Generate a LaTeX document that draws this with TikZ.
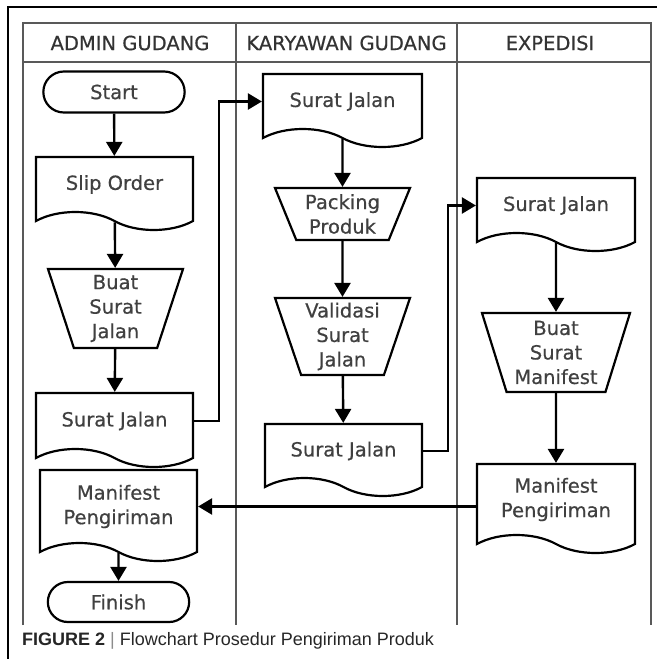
\documentclass[tikz,border=0pt]{standalone}
\usepackage{fontspec}
\setmainfont{DejaVu Sans}
\newfontfamily\flowfam{DejaVu Sans}[FakeBold=0.5]
\newfontfamily\capfont{Liberation Sans}
\usetikzlibrary{positioning,calc,shapes.misc,shapes.geometric,shapes.symbols,arrows.meta}

\newcommand{\flowfont}{\flowfam\fontsize{19.5}{24.5}\selectfont}

\tikzset{
  lane/.style={line width=1.8pt, draw=black!65},
  lanehead/.style={font=\flowfont, text=black!80},
  terminal/.style={rounded rectangle, draw, line width=2.2pt, minimum width=148pt, minimum height=41pt, font=\flowfont, text=black!75},
  doc/.style={tape, tape bend top=none, tape bend bottom=out and in, tape bend height=18pt, draw, line width=2.2pt, minimum width=157pt, minimum height=73pt, align=center, font=\flowfont, text=black!75},
  manual/.style={trapezium, shape border rotate=180, trapezium left angle=70, trapezium right angle=70, trapezium stretches body, draw, line width=2.2pt, minimum width=135pt, inner sep=2pt, align=center, font=\flowfont, text=black!75},
  flow/.style={-{Triangle[length=14pt,width=16pt]}, line width=2.4pt},
}

\begin{document}
\begin{tikzpicture}[x=1pt, y=-1pt]
\useasboundingbox (0,0) rectangle (657,659);
\draw[line width=1.2pt] (8,659) -- (8,7) -- (657,7);

% swimlanes
\draw[lane] (23,625) -- (23,23) -- (651,23) -- (651,625);
\draw[lane] (23,62) -- (651,62);
\draw[lane] (236,23) -- (236,625);
\draw[lane] (457,23) -- (457,625);
\node[lanehead] (hAdmin) at (130,43) {ADMIN GUDANG};
\node[lanehead] (hKaryawan) at (346.5,43) {KARYAWAN GUDANG};
\node[lanehead] (hExpedisi) at (550,43) {EXPEDISI};

% admin gudang
\node[terminal] (Start) at (114,92) {Start};
\node[doc] (SlipOrder) [below of=Start, node distance=92.5pt, xshift=0.5pt] {Slip Order};
\node[manual, minimum height=79pt] (BuatSJ) [below of=SlipOrder, node distance=124pt, xshift=1pt] {Buat\\Surat\\Jalan};
\node[doc, minimum height=74pt] (SJAdmin) [below of=BuatSJ, node distance=112.5pt, xshift=-1pt] {Surat Jalan};
\node[doc, minimum height=91pt] (ManifestAdmin) at (118.5,506.5) {Manifest\\Pengiriman};
\node[terminal, minimum height=40pt] (Finish) [below of=ManifestAdmin, node distance=95.5pt] {Finish};

% karyawan gudang
\node[doc, minimum width=159pt] (SJKaryawan) at (342.5,101.5) {Surat Jalan};
\node[manual, minimum height=52pt, trapezium left angle=64, trapezium right angle=64] (Packing) [below of=SJKaryawan, node distance=112.5pt] {Packing\\Produk};
\node[manual, minimum height=77pt] (Validasi) [below of=Packing, node distance=122.5pt] {Validasi\\Surat\\Jalan};
\node[doc, minimum height=72pt] (SJKaryawan2) [below of=Validasi, node distance=114.5pt, xshift=1pt] {Surat Jalan};

% expedisi
\node[doc, minimum width=158pt] (SJExpedisi) at (556,205.5) {Surat Jalan};
\node[manual, minimum width=148pt, minimum height=79pt] (BuatSM) [below of=SJExpedisi, node distance=147pt] {Buat\\Surat\\Manifest};
\node[doc, minimum width=158pt, minimum height=89pt] (ManifestExp) [below of=BuatSM, node distance=147pt] {Manifest\\Pengiriman};

\draw[flow] (Start) -- (SlipOrder);
\draw[flow] (SlipOrder) -- (BuatSJ);
\draw[flow] (BuatSJ) -- (SJAdmin);
\draw[flow] (SJAdmin.east) -- ++(25,0) |- (SJKaryawan.west);
\draw[flow] (SJKaryawan) -- (Packing);
\draw[flow] (Packing) -- (Validasi);
\draw[flow] (Validasi) -- (SJKaryawan2);
\draw[flow] (SJKaryawan2.east) -- ++(25,0) |- (SJExpedisi.west);
\draw[flow] (SJExpedisi) -- (BuatSM);
\draw[flow] (BuatSM) -- (ManifestExp);
\draw[flow] (ManifestExp.west |- ManifestAdmin.east) -- (ManifestAdmin.east);
\draw[flow] (ManifestAdmin) -- (Finish);

% caption
\node[anchor=base west, font=\capfont\fontsize{18}{20}\selectfont, text=black!85, inner sep=0pt] (caption) at (22,645) {\textbf{FIGURE 2} {\color{black!45}|} Flowchart Prosedur Pengiriman Produk};
\end{tikzpicture}
\end{document}
